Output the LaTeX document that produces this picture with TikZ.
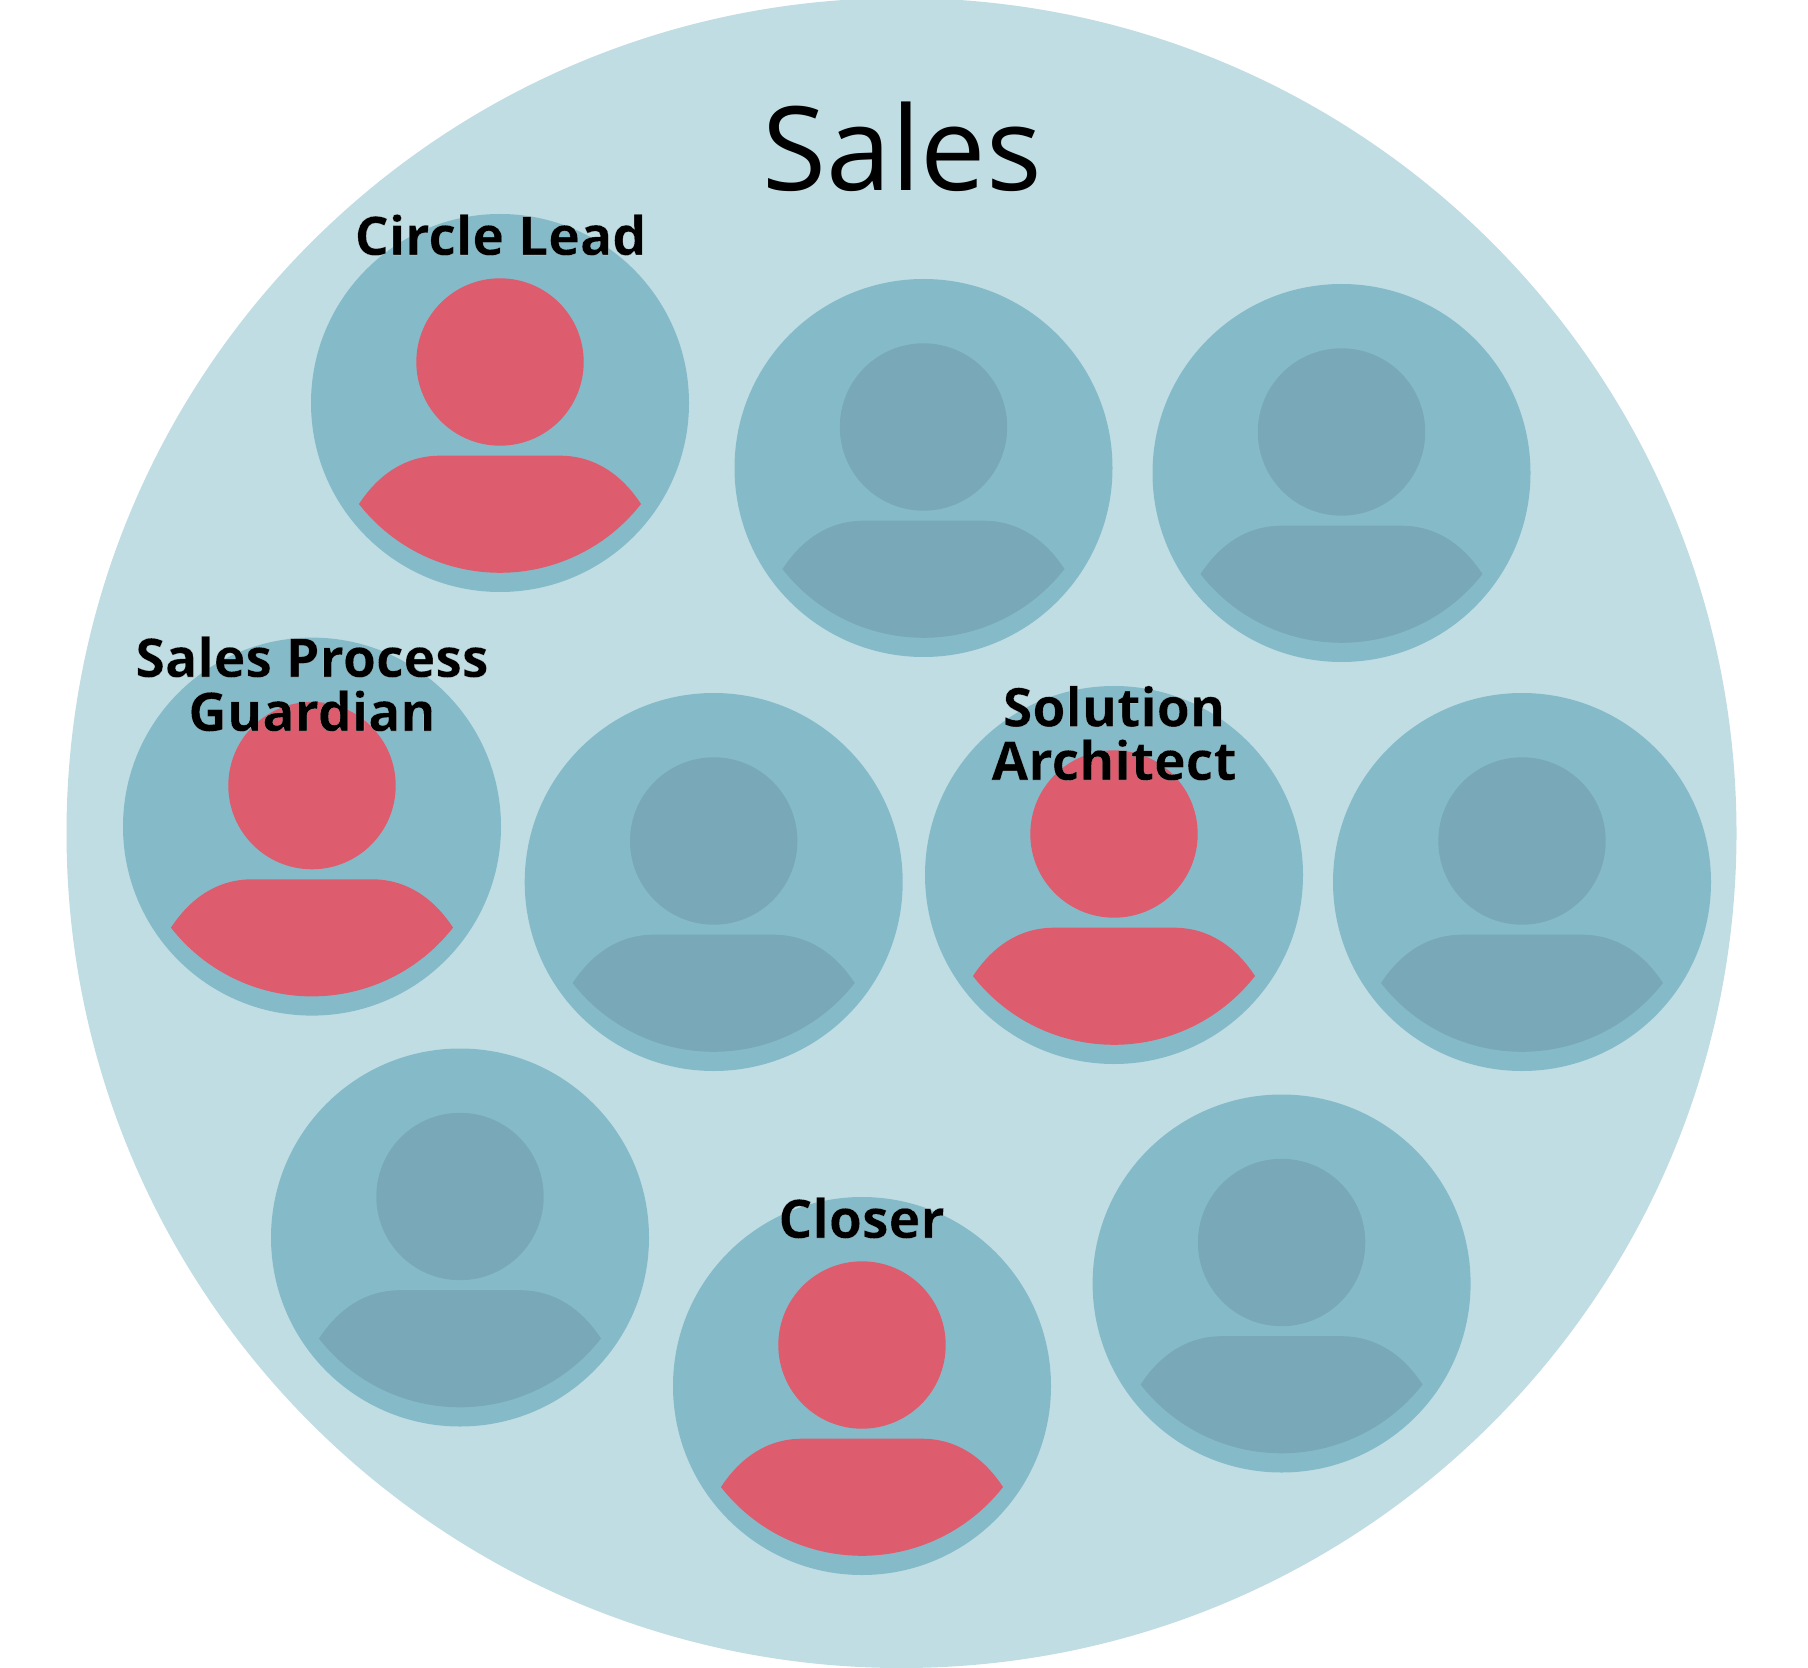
\documentclass[tikz,border=0pt]{standalone}
\usepackage{fontspec}
\setmainfont{Open Sans}
\newfontfamily\labfont[FakeBold=0.06]{Open Sans Bold}
\definecolor{circlebg}{HTML}{C0DDE3}
\definecolor{personbg}{HTML}{85BBC9}
\definecolor{rolered}{HTML}{DD5D6E}
\definecolor{rolegray}{HTML}{79A8B8}
\newcommand{\halotext}[1]{\special{pdf:bcolor [0 0 0] [0.9 0.95 0.96]}#1\special{pdf:ecolor}}
\tikzset{
  x=0.5pt,y=-0.5pt,
  rolelabel/.style={font=\labfont\fontsize{26.8pt}{27pt}\selectfont,anchor=base,inner sep=0pt,text=black,align=center},
  pics/person/.style={code={
    \fill[personbg] (0,0) circle[radius=189];
    \fill[#1] (0,-41) circle[radius=83.7];
    \fill[#1] (-141,101) .. controls (-122,72) and (-95,52.7) .. (-60,52.7)
      -- (60,52.7) .. controls (95,52.7) and (122,72) .. (141,101)
      arc[start angle=38,end angle=142,radius=179] -- cycle;
  }}
}
\begin{document}
\begin{tikzpicture}
\useasboundingbox (0,0) rectangle (1808,1668);
\fill[circlebg] (901.5,833) circle[radius=835];
\node[font=\fontsize{58.3pt}{58pt}\selectfont,anchor=base,inner sep=0pt,text=black] (title) at (902,191) {Sales};
\pic at (500,403) {person=rolered};
\pic at (923.5,468) {person=rolegray};
\pic at (1341.5,473) {person=rolegray};
\pic at (312,826.6) {person=rolered};
\pic at (713.7,882) {person=rolegray};
\pic at (1114,875) {person=rolered};
\pic at (1522,882) {person=rolegray};
\pic at (460,1237.5) {person=rolegray};
\pic at (862,1386) {person=rolered};
\pic at (1281.6,1283.5) {person=rolegray};
\node[rolelabel] (lead) at (500.5,255) {\halotext{Circle Lead}};
\node[rolelabel] (spg1) at (312,677) {\halotext{Sales Process}};
\node[rolelabel] (spg2) at (312,731) {\halotext{Guardian}};
\node[rolelabel] (sa1) at (1114,726.5) {\halotext{Solution}};
\node[rolelabel] (sa2) at (1114,780) {\halotext{Architect}};
\node[rolelabel] (closer) at (861.5,1238) {\halotext{Closer}};
\end{tikzpicture}
\end{document}
